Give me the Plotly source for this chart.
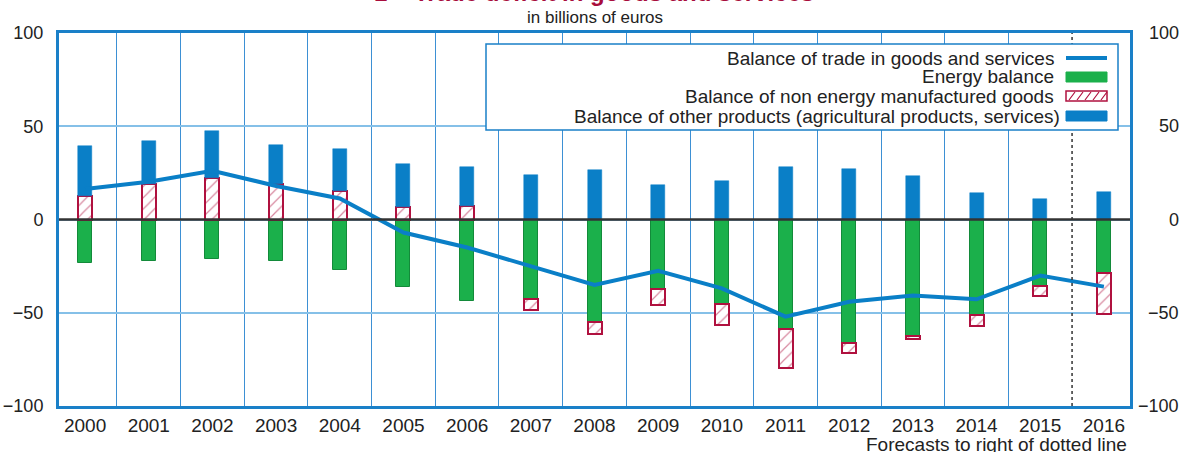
import plotly.graph_objects as go

years = [str(y) for y in range(2000, 2017)]
trade_balance = [16.3, 20.2, 26.1, 18.0, 11.3, -7.0, -15.0, -25.3, -35.1, -27.5, -36.9, -52.1, -44.1, -40.8, -42.8, -30.1, -36.0]
energy_balance = [-23.2, -22.1, -21.0, -22.3, -27.1, -36.0, -43.7, -42.8, -55.1, -37.3, -45.1, -58.9, -66.0, -62.5, -51.2, -35.5, -28.9]
manuf_balance = [12.4, 19.3, 22.5, 19.3, 15.4, 6.8, 7.2, -5.7, -6.3, -8.5, -11.5, -20.9, -5.7, -1.7, -5.7, -5.5, -21.8]
other_balance = [26.9, 22.7, 24.8, 20.7, 22.3, 22.7, 21.0, 23.6, 26.5, 18.3, 20.4, 27.9, 27.0, 23.4, 14.1, 11.1, 14.5]
y_ticks = [-100, -50, 0, 50, 100]
y_tick_text = ["\u2212100", "\u221250", "0", "50", "100"]
legend_labels = [
    "Balance of trade in goods and services",
    "Energy balance",
    "Balance of non energy manufactured goods",
    "Balance of other products (agricultural products, services)",
]

BLUE = "#0a7fc7"
GREEN = "#1bb04b"
GREEN_EDGE = "#138a3a"
CRIMSON = "#b0113f"
FONT = "Liberation Sans, Arial, sans-serif"
TXT = "#222222"

W, H = 1183, 452
L, R, T, B = 59, 1130, 33, 406

def px_x(px):
    return (px - L) / (R - L)

def px_y(py):
    return (B - py) / (B - T)

xs = list(range(len(years)))
bw = 0.22

fig = go.Figure()
fig.add_trace(go.Bar(x=xs, y=energy_balance, width=bw, marker=dict(color=GREEN, line=dict(color=GREEN_EDGE, width=1)), showlegend=False))
fig.add_trace(go.Bar(x=xs, y=manuf_balance, width=bw,
                     marker=dict(color="white", line=dict(color=CRIMSON, width=2),
                                 pattern=dict(shape="/", fgcolor=CRIMSON, bgcolor="white", size=8, solidity=0.15)),
                     showlegend=False))
fig.add_trace(go.Bar(x=xs, y=other_balance, width=bw, marker=dict(color=BLUE, line=dict(color=BLUE, width=0.5)), showlegend=False))
fig.add_trace(go.Scatter(x=xs, y=trade_balance, mode="lines", line=dict(color=BLUE, width=4), showlegend=False))

shapes = []
shapes.append(dict(type="line", xref="paper", yref="y", x0=0, x1=1, y0=0, y1=0, line=dict(color="#333333", width=2.5), layer="above"))
shapes.append(dict(type="line", xref="x", yref="paper", x0=15.5, x1=15.5, y0=0, y1=1, line=dict(color="#333333", width=1.5, dash="dot"), layer="above"))
shapes.append(dict(type="rect", xref="paper", yref="paper", x0=px_x(486), x1=px_x(1118), y0=px_y(130), y1=px_y(44),
                   fillcolor="white", line=dict(color="#1a80c8", width=1.5), layer="above"))
sx0, sx1 = 1066, 1107
shapes.append(dict(type="line", xref="paper", yref="paper", x0=px_x(sx0), x1=px_x(sx1), y0=px_y(58), y1=px_y(58), line=dict(color=BLUE, width=4), layer="above"))
shapes.append(dict(type="rect", xref="paper", yref="paper", x0=px_x(sx0), x1=px_x(sx1), y0=px_y(82), y1=px_y(72), fillcolor=GREEN, line=dict(color=GREEN, width=1), layer="above"))
shapes.append(dict(type="rect", xref="paper", yref="paper", x0=px_x(sx0), x1=px_x(sx1), y0=px_y(101), y1=px_y(91), fillcolor="white", line=dict(color=CRIMSON, width=1.5), layer="above"))
path = ""
for i in range(5):
    xa = sx0 + 3 + 8 * i
    path += f"M {px_x(xa)} {px_y(100)} L {px_x(xa + 6)} {px_y(92)} "
shapes.append(dict(type="path", xref="paper", yref="paper", path=path, line=dict(color=CRIMSON, width=1.2), layer="above"))
shapes.append(dict(type="rect", xref="paper", yref="paper", x0=px_x(sx0), x1=px_x(sx1), y0=px_y(121), y1=px_y(111), fillcolor=BLUE, line=dict(color=BLUE, width=1), layer="above"))

annotations = []
row_y = [58, 77, 96, 116]
row_right = [1056, 1056, 1056, 1062]
for lab, yy, xr in zip(legend_labels, row_y, row_right):
    annotations.append(dict(text=lab, xref="paper", yref="paper", x=px_x(xr), y=px_y(yy), xanchor="right", yanchor="middle",
                            showarrow=False, font=dict(family=FONT, size=19, color=TXT)))
for v, t in zip(y_ticks, y_tick_text):
    annotations.append(dict(text=t, xref="paper", yref="y", x=px_x(1181), y=v, xanchor="right", yanchor="middle",
                            showarrow=False, font=dict(family=FONT, size=18, color=TXT)))
annotations.append(dict(text="<b>1 \u2013 Trade deficit in goods and services</b>", xref="paper", yref="paper",
                        x=px_x(594), y=px_y(8), xanchor="center", yanchor="bottom", showarrow=False,
                        font=dict(family=FONT, size=24, color="#a80d3c")))
annotations.append(dict(text="in billions of euros", xref="paper", yref="paper", x=px_x(595), y=px_y(18),
                        xanchor="center", yanchor="middle", showarrow=False, font=dict(family=FONT, size=17, color=TXT)))
annotations.append(dict(text="Forecasts to right of dotted line", xref="paper", yref="paper", x=px_x(1129), y=px_y(444),
                        xanchor="right", yanchor="middle", showarrow=False, font=dict(family=FONT, size=19, color=TXT)))

fig.update_layout(
    width=W, height=H,
    margin=dict(l=L, r=W - R, t=T, b=H - B, pad=0, autoexpand=False),
    paper_bgcolor="white", plot_bgcolor="white",
    barmode="relative", bargap=0,
    showlegend=False,
    shapes=shapes, annotations=annotations,
    font=dict(family=FONT, color=TXT),
    xaxis=dict(range=[-0.41, 16.41], tickvals=xs, ticktext=years, showgrid=False, zeroline=False, automargin=False,
               showline=True, mirror=True, linecolor="#1a80c8", linewidth=3,
               ticks="", tickfont=dict(family=FONT, size=19, color=TXT),
               minor=dict(tickvals=[i + 0.5 for i in range(15)], showgrid=True, gridcolor="#3d90d4", gridwidth=1, ticks="")),
    yaxis=dict(range=[-100, 100], tickvals=y_ticks, ticktext=y_tick_text, showgrid=True, gridcolor="#85c0e8", gridwidth=1.5,
               zeroline=False, showline=True, mirror=True, linecolor="#1a80c8", linewidth=3, automargin=False,
               ticks="outside", ticklen=9, tickcolor="rgba(0,0,0,0)",
               tickfont=dict(family=FONT, size=18, color=TXT)),
)

fig.write_html("out.html", config={"displayModeBar": False},
               post_script="document.body.style.margin='0';document.body.style.overflow='hidden';")
